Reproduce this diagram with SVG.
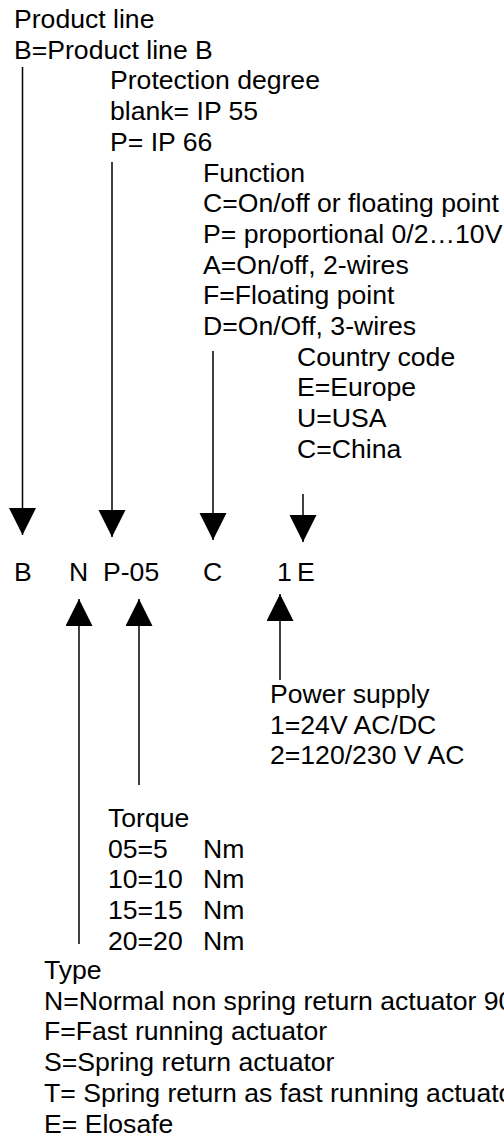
<svg xmlns="http://www.w3.org/2000/svg" width="504" height="1136" viewBox="0 0 504 1136">
<style>
text{font-family:"Liberation Sans",Arial,sans-serif;font-size:26.6px;fill:#000}
.c{stroke:#000;stroke-width:1.5;fill:none;marker-end:url(#ah)}
</style>
<defs>
<marker id="ah" markerUnits="userSpaceOnUse" markerWidth="28" markerHeight="28" refX="27" refY="13.5" orient="auto" viewBox="0 0 28 28">
<path d="M0,0 L27,13.5 L0,27 Z" fill="#000"/>
</marker>
</defs>
<rect width="504" height="1136" fill="#fff"/>
<g id="connectors">
<line class="c" x1="22.5" y1="67" x2="22.5" y2="535"/>
<line class="c" x1="112" y1="162" x2="112" y2="537"/>
<line class="c" x1="213" y1="351" x2="213" y2="540"/>
<line class="c" x1="303" y1="494" x2="303" y2="542"/>
<line class="c" x1="79" y1="944" x2="79" y2="599"/>
<line class="c" x1="139" y1="785" x2="139" y2="599"/>
<line class="c" x1="280" y1="680" x2="280" y2="594"/>
</g>
<g id="product-line">
<text x="14" y="28">Product line</text>
<text x="14" y="58.7">B=Product line B</text>
</g>
<g id="protection">
<text x="110" y="89.4">Protection degree</text>
<text x="110" y="120.1">blank= IP 55</text>
<text x="110" y="150.8">P= IP 66</text>
</g>
<g id="function">
<text x="203" y="181.5">Function</text>
<text x="203" y="212.2">C=On/off or floating point</text>
<text x="203" y="242.9">P= proportional 0/2…10V</text>
<text x="203" y="273.6">A=On/off, 2-wires</text>
<text x="203" y="304.3">F=Floating point</text>
<text x="203" y="335">D=On/Off, 3-wires</text>
</g>
<g id="country">
<text x="297" y="365.7">Country code</text>
<text x="297" y="396.4">E=Europe</text>
<text x="297" y="427.1">U=USA</text>
<text x="297" y="457.8">C=China</text>
</g>
<g id="code">
<text x="14" y="581">B</text>
<text x="69" y="581">N</text>
<text x="103" y="581">P-05</text>
<text x="203" y="581">C</text>
<text x="277" y="581">1</text>
<text x="297" y="581">E</text>
</g>
<g id="power">
<text x="270" y="703">Power supply</text>
<text x="270" y="733.7">1=24V AC/DC</text>
<text x="270" y="764.4">2=120/230 V AC</text>
</g>
<g id="torque">
<text x="108" y="827">Torque</text>
<text x="108" y="857.7">05=5<tspan x="203">Nm</tspan></text>
<text x="108" y="888.4">10=10<tspan x="203">Nm</tspan></text>
<text x="108" y="919.1">15=15<tspan x="203">Nm</tspan></text>
<text x="108" y="949.8">20=20<tspan x="203">Nm</tspan></text>
</g>
<g id="type">
<text x="44" y="979">Type</text>
<text x="44" y="1009.7">N=Normal non spring return actuator 90°</text>
<text x="44" y="1040.4">F=Fast running actuator</text>
<text x="44" y="1071.1">S=Spring return actuator</text>
<text x="44" y="1101.8">T= Spring return as fast running actuator</text>
<text x="44" y="1132.5">E= Elosafe</text>
</g>
</svg>
